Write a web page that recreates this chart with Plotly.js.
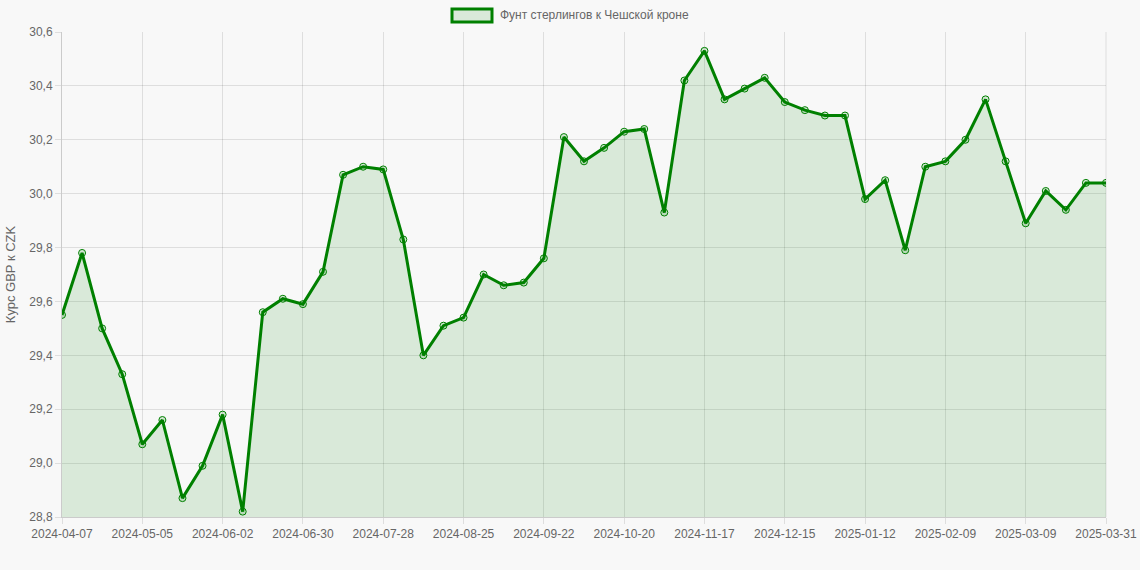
<!DOCTYPE html>
<html>
<head>
<meta charset="utf-8">
<script src="https://cdn.plot.ly/plotly-3.0.1.min.js"></script>
<style>
  html, body { margin: 0; padding: 0; background: #f8f8f8; }
  #chart { width: 1140px; height: 570px; }
</style>
</head>
<body>
<div id="chart"></div>
<script>
// Weekly dates (category axis)
const weeks = [
    '2024-04-07', '2024-04-14', '2024-04-21', '2024-04-28', '2024-05-05', '2024-05-12',
    '2024-05-19', '2024-05-26', '2024-06-02', '2024-06-09', '2024-06-16', '2024-06-23',
    '2024-06-30', '2024-07-07', '2024-07-14', '2024-07-21', '2024-07-28', '2024-08-04',
    '2024-08-11', '2024-08-18', '2024-08-25', '2024-09-01', '2024-09-08', '2024-09-15',
    '2024-09-22', '2024-09-29', '2024-10-06', '2024-10-13', '2024-10-20', '2024-10-27',
    '2024-11-03', '2024-11-10', '2024-11-17', '2024-11-24', '2024-12-01', '2024-12-08',
    '2024-12-15', '2024-12-22', '2024-12-29', '2025-01-05', '2025-01-12', '2025-01-19',
    '2025-01-26', '2025-02-02', '2025-02-09', '2025-02-16', '2025-02-23', '2025-03-02',
    '2025-03-09', '2025-03-16', '2025-03-23', '2025-03-30', '2025-03-31'
];

// GBP -> CZK rate
const rates = [
    29.55, 29.78, 29.50, 29.33, 29.07, 29.16, 28.87, 28.99, 29.18, 28.82,
    29.56, 29.61, 29.59, 29.71, 30.07, 30.10, 30.09, 29.83, 29.40, 29.51,
    29.54, 29.70, 29.66, 29.67, 29.76, 30.21, 30.12, 30.17, 30.23, 30.24,
    29.93, 30.42, 30.53, 30.35, 30.39, 30.43, 30.34, 30.31, 30.29, 30.29,
    29.98, 30.05, 29.79, 30.10, 30.12, 30.20, 30.35, 30.12, 29.89, 30.01,
    29.94, 30.04, 30.04
];

// labels shown on the x axis
const shownTicks = [
    '2024-04-07', '2024-05-05', '2024-06-02', '2024-06-30', '2024-07-28', '2024-08-25',
    '2024-09-22', '2024-10-20', '2024-11-17', '2024-12-15', '2025-01-12', '2025-02-09',
    '2025-03-09', '2025-03-31'
];

const seriesName = 'Фунт стерлингов к Чешской кроне';
const yTitle = 'Курс GBP к CZK';

const textColor = '#666';
const gridColor = 'rgba(0,0,0,0.1)';
const fontFamily = '"Liberation Sans", Arial, sans-serif';

const trace = {
    x: weeks,
    y: rates,
    type: 'scatter',
    mode: 'lines+markers',
    name: seriesName,
    fill: 'tozeroy',
    fillcolor: 'rgba(0,128,0,0.12)',
    line: { color: 'green', width: 3 },
    marker: { size: 7, color: 'rgba(0,128,0,0.15)', line: { color: 'green', width: 1 } },
    showlegend: false,
    hoverinfo: 'x+y'
};

const layout = {
    width: 1140,
    height: 570,
    paper_bgcolor: '#f8f8f8',
    plot_bgcolor: '#f8f8f8',
    separators: ', ',
    margin: { l: 62, r: 34, t: 32, b: 53 },
    font: { family: fontFamily, size: 12, color: textColor },
    xaxis: {
        type: 'category',
        categoryorder: 'array',
        categoryarray: weeks,
        range: [0, weeks.length - 1],
        tickmode: 'array',
        tickvals: shownTicks,
        ticktext: shownTicks,
        tickangle: 0,
        ticks: 'outside',
        ticklen: 6,
        tickcolor: gridColor,
        showgrid: true,
        gridcolor: gridColor,
        showline: true,
        linecolor: 'rgba(0,0,0,0.18)',
        zeroline: false,
        mirror: false,
        tickfont: { size: 12, color: textColor }
    },
    yaxis: {
        range: [28.8, 30.6],
        dtick: 0.2,
        tick0: 28.8,
        tickformat: '.1f',
        ticks: 'outside',
        ticklen: 6,
        tickcolor: gridColor,
        showgrid: true,
        gridcolor: gridColor,
        showline: true,
        linecolor: 'rgba(0,0,0,0.18)',
        zeroline: false,
        tickfont: { size: 12, color: textColor },
        title: { text: yTitle, font: { size: 13, color: textColor }, standoff: 10 }
    },
    shapes: [
        // right border grid line
        { type: 'line', xref: 'paper', yref: 'paper', x0: 1, x1: 1, y0: 0, y1: 1,
          line: { color: gridColor, width: 1 } },
        // legend swatch
        { type: 'rect', xref: 'paper', yref: 'paper',
          x0: (452 - 62) / 1044, x1: (492 - 62) / 1044,
          y0: 1 + (32 - 22) / 485, y1: 1 + (32 - 9) / 485,
          fillcolor: 'rgba(0,128,0,0.12)', line: { color: 'green', width: 3 } }
    ],
    annotations: [
        { xref: 'paper', yref: 'paper',
          x: (498 - 62) / 1044, y: 1 + (32 - 15.5) / 485,
          xanchor: 'left', yanchor: 'middle', showarrow: false,
          text: seriesName, font: { size: 12, color: textColor } }
    ]
};

Plotly.newPlot('chart', [trace], layout, { displayModeBar: false, responsive: false });
</script>
</body>
</html>
